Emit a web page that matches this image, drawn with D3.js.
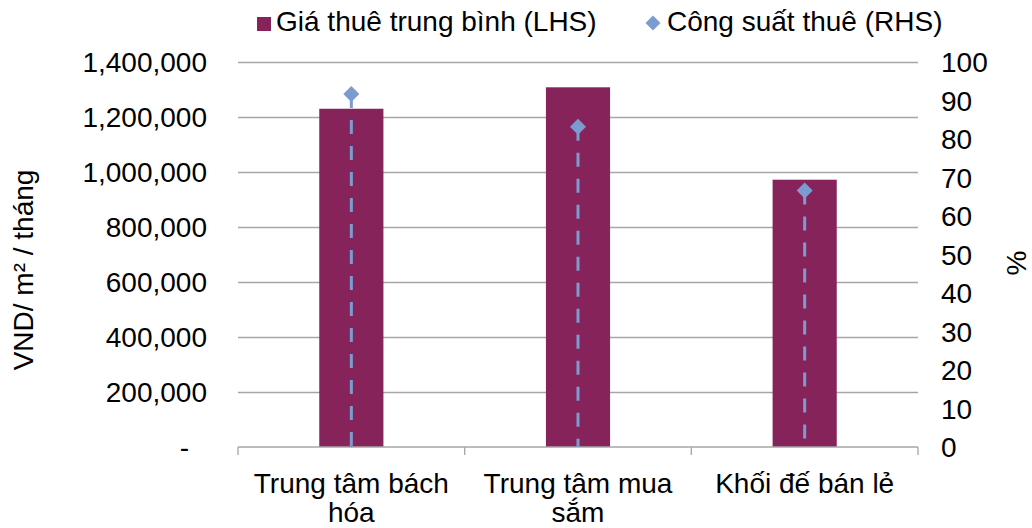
<!DOCTYPE html>
<html>
<head>
<meta charset="utf-8">
<script src="https://cdn.jsdelivr.net/npm/d3@7"></script>
<style>
  html, body { margin: 0; padding: 0; background: #fff; }
  svg { display: block; font-family: "Liberation Sans", Arial, sans-serif; }
</style>
</head>
<body>
<svg id="chart" width="1032" height="528"></svg>
<script>
// ---- data ----
const categories = ["Trung tâm bách hóa", "Trung tâm mua sắm", "Khối đế bán lẻ"];
const rentValues = [1230000, 1308000, 972000];      // Giá thuê trung bình (LHS), VND/m²/tháng
const occupancyValues = [91.7, 83.2, 66.6];          // Công suất thuê (RHS), %
const leftTicks = [0, 200000, 400000, 600000, 800000, 1000000, 1200000, 1400000];
const rightTicks = [0, 10, 20, 30, 40, 50, 60, 70, 80, 90, 100];
const seriesNames = ["Giá thuê trung bình (LHS)", "Công suất thuê (RHS)"];
const leftTitle = "VND/ m² / tháng";
const rightTitle = "%";

// ---- layout ----
const X0 = 238, X1 = 918, YB = 447, YT = 62;
const FS = 28;
const barColor = "#86235A";
const markColor = "#7C9CD0";
const gridColor = "#A6A6A6";

const svg = d3.select("#chart");

const x = d3.scaleBand().domain(categories).range([X0, X1]).padding(0);
const yL = d3.scaleLinear().domain([0, 1400000]).range([YB, YT]);
const yR = d3.scaleLinear().domain([0, 100]).range([YB, YT]);

// gridlines
const grid = svg.append("g").attr("transform", `translate(${X0},0)`)
  .call(d3.axisLeft(yL).tickValues(leftTicks.filter(d => d > 0)).tickSize(-(X1 - X0)).tickFormat(""));
grid.select(".domain").remove();
grid.selectAll("line").attr("stroke", gridColor).attr("stroke-width", 1.3);

// left axis labels
const fmt = d3.format(",");
const axL = svg.append("g").attr("transform", `translate(${X0},0)`)
  .call(d3.axisLeft(yL).tickValues(leftTicks).tickSize(0).tickPadding(31)
    .tickFormat(d => d === 0 ? "-" : fmt(d)));
axL.select(".domain").remove();
axL.selectAll("text").attr("font-size", FS).attr("font-family", "Liberation Sans, Arial, sans-serif")
  .attr("fill", "#000").attr("dy", "0.35em")
  .attr("dx", d => d === 0 ? -18 : 0);

// right axis labels
const axR = svg.append("g").attr("transform", `translate(${X1},0)`)
  .call(d3.axisRight(yR).tickValues(rightTicks).tickSize(0).tickPadding(23).tickFormat(d3.format("d")));
axR.select(".domain").remove();
axR.selectAll("text").attr("font-size", FS).attr("font-family", "Liberation Sans, Arial, sans-serif")
  .attr("fill", "#000").attr("dy", "0.35em");

// bars
const barW = x.bandwidth() * 0.283;
svg.append("g").selectAll("rect").data(categories).join("rect")
  .attr("x", (d) => x(d) + x.bandwidth() / 2 - barW / 2)
  .attr("width", barW)
  .attr("y", (d, i) => yL(rentValues[i]))
  .attr("height", (d, i) => YB - yL(rentValues[i]))
  .attr("fill", barColor);

// x axis
const axX = svg.append("g").attr("transform", `translate(0,${YB})`)
  .call(d3.axisBottom(x).tickSize(0).tickFormat(""));
axX.select(".domain").attr("stroke", gridColor).attr("stroke-width", 1.3)
  .attr("d", `M${X0},0H${X1}`);
const bounds = [X0].concat(categories.map(c => x(c) + x.bandwidth()));
axX.selectAll(".bound").data(bounds).join("line").attr("class", "bound")
  .attr("x1", d => d).attr("x2", d => d).attr("y1", 0).attr("y2", 8)
  .attr("stroke", gridColor).attr("stroke-width", 1.3);

// category labels (wrapped)
const catG = svg.append("g");
categories.forEach((c) => {
  const t = catG.append("text").attr("font-size", FS).attr("text-anchor", "middle")
    .attr("x", x(c) + x.bandwidth() / 2).attr("y", 493).attr("fill", "#000");
  const words = c.split(" ");
  let line = [];
  let ts = t.append("tspan").attr("x", x(c) + x.bandwidth() / 2).attr("dy", 0);
  words.forEach(w => {
    line.push(w);
    ts.text(line.join(" "));
    if (ts.node().getComputedTextLength() > 214 && line.length > 1) {
      line.pop();
      ts.text(line.join(" "));
      line = [w];
      ts = t.append("tspan").attr("x", x(c) + x.bandwidth() / 2).attr("dy", 29).text(w);
    }
  });
});

// dashed drop lines + diamonds
const cx = d => x(d) + x.bandwidth() / 2;
svg.append("g").selectAll("line").data(categories).join("line")
  .attr("x1", cx).attr("x2", cx)
  .attr("y1", (d, i) => yR(occupancyValues[i])).attr("y2", YB)
  .attr("stroke", markColor).attr("stroke-width", 3).attr("stroke-dasharray", "14,12");
const diamond = d3.symbol().type(d3.symbolSquare).size(128);
svg.append("g").selectAll("path").data(categories).join("path")
  .attr("d", diamond)
  .attr("transform", (d, i) => `translate(${cx(d)},${yR(occupancyValues[i])}) rotate(45)`)
  .attr("fill", markColor);

// legend
const lg = svg.append("g");
lg.append("rect").attr("x", 257).attr("y", 17).attr("width", 14).attr("height", 14).attr("fill", barColor);
lg.append("text").attr("x", 276).attr("y", 31).attr("font-size", FS).text(seriesNames[0]);
lg.append("path").attr("d", d3.symbol().type(d3.symbolSquare).size(112))
  .attr("transform", "translate(653,23) rotate(45)").attr("fill", markColor);
lg.append("text").attr("x", 667).attr("y", 31).attr("font-size", FS).text(seriesNames[1]);

// axis titles
svg.append("text").attr("transform", "translate(33,270) rotate(-90)")
  .attr("text-anchor", "middle").attr("font-size", FS).text(leftTitle);
svg.append("text").attr("transform", "translate(1026,263) rotate(-90)")
  .attr("text-anchor", "middle").attr("font-size", FS).text(rightTitle);
</script>
</body>
</html>
